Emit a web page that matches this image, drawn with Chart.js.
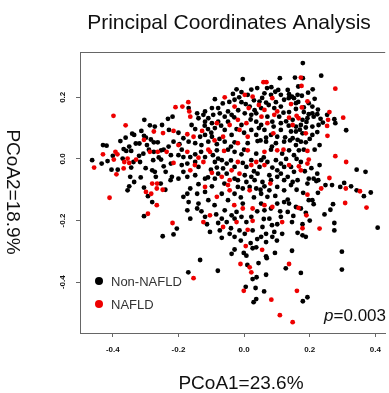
<!DOCTYPE html>
<html>
<head>
<meta charset="utf-8">
<script src="https://cdn.jsdelivr.net/npm/chart.js@4"></script>
<style>
  html, body { margin: 0; padding: 0; background: #fff; overflow: hidden; }
</style>
</head>
<body>
<canvas id="pcoa" width="389" height="393"></canvas>
<script>
const xTicks = [-0.4, -0.2, 0.0, 0.2, 0.4];
const yTicks = [-0.4, -0.2, 0.0, 0.2];
const groups = ['Non-NAFLD', 'NAFLD'];

// PCoA1 / PCoA2 scores
const nonNafld = [
  [-0.218,0.137],[-0.232,0.130],[-0.304,0.127],[-0.287,0.109],[-0.272,0.105],[-0.229,0.094],[-0.313,0.091],[-0.341,0.082],
  [-0.335,0.078],[-0.361,0.069],[-0.377,0.058],[-0.305,0.075],[-0.299,0.069],[-0.284,0.063],[-0.275,0.054],[-0.263,0.054],
  [-0.319,0.050],[-0.215,0.056],[-0.185,0.067],[-0.430,0.045],[-0.419,0.043],[-0.197,0.048],[-0.296,0.045],
  [-0.004,0.259],[0.083,0.233],[0.070,0.230],[0.104,0.224],[0.040,0.230],[0.022,0.225],[-0.023,0.226],[-0.008,0.217],
  [-0.034,0.211],[0.011,0.208],[0.062,0.213],[0.082,0.208],[0.112,0.208],[-0.089,0.194],[-0.169,0.165],[-0.029,0.192],
  [-0.008,0.184],[0.047,0.186],[0.067,0.183],[0.097,0.184],[0.122,0.192],[0.017,0.170],[0.052,0.165],[0.092,0.165],
  [0.112,0.170],[-0.098,0.165],[-0.079,0.165],[-0.119,0.154],[-0.124,0.143],[-0.109,0.132],[-0.094,0.143],[-0.074,0.148],
  [-0.049,0.154],[-0.059,0.137],[-0.038,0.143],[0.002,0.148],[0.022,0.143],[0.037,0.148],[0.071,0.137],[0.107,0.137],
  [-0.143,0.148],[-0.139,0.132],[-0.119,0.121],[-0.098,0.116],[-0.079,0.121],[-0.049,0.121],[-0.008,0.110],[0.037,0.121],
  [0.052,0.110],[0.086,0.121],[0.112,0.116],[-0.149,0.097],[-0.110,0.097],[-0.089,0.100],[-0.059,0.094],[-0.023,0.097],
  [0.022,0.094],[0.062,0.094],[0.112,0.094],[-0.134,0.072],[-0.119,0.078],[-0.098,0.072],[-0.038,0.078],[0.037,0.078],
  [0.067,0.069],[0.082,0.078],[0.101,0.072],[-0.169,0.056],[-0.149,0.051],[-0.109,0.056],[-0.083,0.048],[-0.059,0.056],
  [-0.029,0.054],[0.011,0.051],[0.041,0.058],[0.067,0.056],[0.097,0.051],[0.122,0.056],[0.109,0.262],
  [0.179,0.311],[0.155,0.264],[0.179,0.262],[0.235,0.270],[0.209,0.226],[0.133,0.224],[0.137,0.210],[0.146,0.202],
  [0.136,0.197],[0.152,0.197],[0.163,0.208],[0.158,0.181],[0.176,0.205],[0.197,0.181],[0.182,0.167],[0.158,0.162],
  [0.208,0.170],[0.137,0.152],[0.182,0.152],[0.197,0.145],[0.208,0.148],[0.223,0.145],[0.212,0.137],[0.253,0.143],
  [0.148,0.127],[0.178,0.127],[0.193,0.132],[0.233,0.130],[0.275,0.129],[0.278,0.116],[0.136,0.108],[0.158,0.105],
  [0.173,0.110],[0.188,0.102],[0.208,0.105],[0.227,0.110],[0.143,0.089],[0.158,0.089],[0.178,0.083],[0.208,0.078],
  [0.223,0.087],[0.311,0.093],[0.148,0.067],[0.163,0.062],[0.173,0.056],[0.188,0.054],[0.158,0.045],[0.230,0.045],
  [-0.463,-0.004],[-0.434,-0.015],[-0.416,-0.007],[-0.404,-0.035],[-0.385,-0.035],[-0.367,0.032],[-0.359,0.026],[-0.344,0.026],
  [-0.370,0.001],[-0.337,-0.010],[-0.317,-0.010],[-0.344,-0.028],[-0.307,0.017],[-0.275,0.023],[-0.253,0.028],[-0.245,0.030],
  [-0.223,0.012],[-0.200,0.012],[-0.185,0.006],[-0.277,-0.004],[-0.253,-0.002],[-0.245,-0.024],[-0.223,-0.015],[-0.190,-0.020],
  [-0.185,-0.042],[-0.280,-0.037],[-0.272,-0.042],[-0.239,-0.042],[-0.220,-0.058],[-0.224,-0.069],[-0.200,-0.064],[-0.269,-0.058],
  [-0.347,-0.058],[-0.335,-0.075],[-0.350,-0.089],[-0.355,-0.102],[-0.254,-0.080],[-0.305,-0.093],[-0.293,-0.121],[-0.280,-0.140],
  [-0.185,-0.123],[-0.305,-0.186],[-0.205,-0.226],[-0.215,-0.245],[-0.248,-0.251],
  [-0.164,0.006],[-0.149,0.015],[-0.131,0.023],[-0.083,0.028],[-0.049,0.030],[-0.029,0.023],[-0.008,0.015],[0.037,0.017],
  [0.082,0.030],[0.116,0.017],[-0.079,0.001],[-0.119,0.006],[-0.173,-0.015],[-0.149,-0.010],[-0.089,-0.010],[-0.068,-0.004],
  [-0.053,-0.015],[-0.004,-0.013],[0.022,-0.004],[0.052,-0.004],[0.071,-0.010],[0.097,-0.004],[0.112,-0.015],[-0.139,-0.026],
  [-0.101,-0.035],[-0.083,-0.028],[-0.064,-0.031],[-0.029,-0.026],[0.007,-0.026],[0.047,-0.026],[0.086,-0.028],[0.101,-0.037],
  [0.122,-0.026],[-0.173,-0.058],[-0.149,-0.053],[-0.079,-0.048],[-0.053,-0.048],[0.002,-0.053],[0.022,-0.058],[0.041,-0.048],
  [0.077,-0.053],[0.101,-0.058],[0.112,-0.048],[-0.119,-0.064],[-0.089,-0.064],[-0.029,-0.064],[-0.019,-0.069],[0.007,-0.075],
  [0.032,-0.069],[0.056,-0.075],[0.082,-0.069],[0.122,-0.069],[-0.139,-0.082],[-0.164,-0.096],[-0.098,-0.089],[-0.019,-0.091],
  [-0.004,-0.096],[0.017,-0.091],[0.037,-0.096],[0.062,-0.089],[0.077,-0.102],[0.101,-0.091],[0.122,-0.102],[-0.173,-0.113],
  [-0.143,-0.113],[-0.119,-0.107],[-0.068,-0.113],[-0.029,-0.113],[0.052,-0.113],[0.071,-0.123],[-0.169,-0.140],[-0.139,-0.145],
  [-0.109,-0.134],[-0.049,-0.134],[-0.004,-0.145],[0.052,-0.145],[0.082,-0.161],[0.101,-0.145],[0.122,-0.140],[-0.173,-0.167],
  [-0.143,-0.161],[-0.059,-0.167],[-0.023,-0.172],[0.062,-0.167],[-0.164,-0.194],[-0.119,-0.188],[-0.068,-0.194],[-0.038,-0.183],
  [-0.029,-0.194],[-0.008,-0.188],[0.022,-0.188],[0.077,-0.194],[0.112,-0.188],[-0.113,-0.212],[-0.079,-0.208],[-0.053,-0.205],
  [0.007,-0.205],[0.056,-0.221],[0.101,-0.212],[-0.104,-0.237],[-0.074,-0.232],[-0.044,-0.243],[-0.014,-0.232],[0.002,-0.243],
  [0.026,-0.232],[0.067,-0.243],[0.092,-0.237],[0.116,-0.243],[-0.029,-0.253],[0.052,-0.253],[0.086,-0.253],[-0.068,-0.256],
  [0.182,0.030],[0.167,0.028],[0.137,0.028],[0.152,0.012],[0.173,-0.010],[0.143,-0.026],[0.152,-0.042],[0.133,-0.058],
  [0.230,-0.020],[0.343,-0.035],[0.370,-0.042],[0.223,-0.048],[0.212,-0.064],[0.220,-0.072],[0.226,-0.069],[0.197,-0.064],
  [0.193,-0.080],[0.163,-0.069],[0.148,-0.075],[0.143,-0.085],[0.248,-0.085],[0.268,-0.085],[0.293,-0.091],[0.305,-0.078],
  [0.326,-0.089],[0.343,-0.102],[0.365,-0.121],[0.386,-0.109],[0.197,-0.134],[0.208,-0.134],[0.212,-0.147],[0.133,-0.132],
  [0.137,-0.145],[0.271,-0.147],[0.263,-0.165],[0.158,-0.156],[0.173,-0.161],[0.188,-0.175],[0.133,-0.172],[0.146,-0.205],
  [0.178,-0.212],[0.275,-0.208],[0.275,-0.232],[0.407,-0.223],[0.163,-0.240],[0.178,-0.248],[0.188,-0.253],
  [0.020,-0.273],[0.037,-0.287],[0.026,-0.290],[0.067,-0.270],[0.100,-0.265],[-0.029,-0.294],[-0.038,-0.308],[-0.001,-0.305],
  [0.007,-0.314],[0.067,-0.316],[0.069,-0.322],[0.094,-0.305],[-0.134,-0.328],[0.010,-0.344],[0.044,-0.338],[0.127,-0.355],
  [-0.170,-0.368],[-0.080,-0.363],[0.026,-0.390],[0.038,-0.384],[0.067,-0.376],[0.005,-0.415],[0.035,-0.419],[0.061,-0.430],
  [0.037,-0.455],[0.029,-0.465],
  [0.146,-0.298],[0.298,-0.301],[0.173,-0.370],[0.298,-0.359],[0.179,-0.462],[0.193,-0.449],
  [-0.015,0.200],[0.030,0.190],[0.055,0.198],[0.095,0.218],[0.075,0.175],[0.032,0.158],[-0.018,0.158],[-0.065,0.180],
  [-0.045,0.185],[0.005,0.178],[0.120,0.150],[0.128,0.122],[0.020,0.128],[-0.030,0.135],[-0.070,0.108],[0.045,0.100],
  [0.090,0.105],[-0.120,0.108],[-0.160,0.110],[-0.100,0.085],[-0.075,0.065],[0.000,0.085],[0.050,0.060],[0.085,0.040],
  [-0.040,0.040],[-0.130,0.045],[-0.190,0.030],[-0.095,0.012],[0.000,0.030],[0.060,0.005],[0.125,0.070],[0.128,0.000],
  [-0.040,-0.005],[0.030,-0.040],[-0.110,-0.060],[-0.060,-0.080],[0.050,-0.100],[0.095,-0.120],[-0.090,-0.150],[0.030,-0.125],
  [-0.010,-0.125],[0.110,-0.170],[-0.130,-0.170],[0.040,-0.170],[-0.085,-0.180],[0.060,-0.195],[-0.040,-0.225],[0.085,-0.215],
  [0.040,-0.260],[-0.010,-0.265],
  [0.165,0.235],[0.195,0.215],[0.165,0.185],[0.215,0.195],[0.225,0.160],[0.190,0.120],[0.240,0.118],[0.170,0.095],
  [0.200,0.065],[0.140,0.060],[0.215,0.030],[0.160,0.000],[0.185,-0.040],[0.205,-0.030],[0.160,-0.100],[0.180,-0.110],
  [0.225,-0.110],[0.150,-0.185],[0.200,-0.200],[0.245,-0.180],
  [-0.330,0.050],[-0.350,0.040],[-0.290,0.030],[-0.320,0.010],[-0.260,0.005],[-0.300,-0.030],[-0.230,0.040],[-0.200,0.085],
  [-0.250,0.110],[-0.400,0.010],[-0.315,-0.060],[-0.240,-0.100]
];

const nafld = [
  [-0.398,0.140],[-0.361,0.109],[-0.209,0.168],[-0.188,0.170],[-0.275,0.089],[-0.247,0.084],[-0.215,0.091],[-0.305,0.062],
  [0.059,0.249],[0.068,0.249],[0.002,0.208],[0.026,0.202],[0.086,0.197],[-0.059,0.200],[-0.170,0.184],[-0.167,0.154],
  [-0.164,0.137],[-0.029,0.170],[0.014,0.165],[0.062,0.159],[0.101,0.154],[0.053,0.137],[0.092,0.143],[-0.083,0.116],
  [-0.044,0.110],[-0.019,0.127],[0.007,0.116],[0.071,0.116],[-0.128,0.091],[-0.014,0.094],[0.089,0.083],[-0.173,0.080],
  [-0.154,0.072],[-0.064,0.072],[0.011,0.072],[-0.019,0.051],
  [0.173,0.264],[0.175,0.237],[0.278,0.228],[0.143,0.178],[0.193,0.187],[0.176,0.167],[0.260,0.152],[0.302,0.134],
  [0.137,0.134],[0.166,0.132],[0.256,0.127],[0.148,0.110],[0.253,0.107],[0.188,0.083],[0.254,0.075],
  [-0.457,-0.028],[-0.430,0.015],[-0.392,0.023],[-0.386,0.015],[-0.397,-0.002],[-0.389,-0.050],[-0.365,-0.010],[-0.355,0.001],
  [-0.350,-0.013],[-0.329,-0.002],[-0.367,-0.031],[-0.287,0.023],[-0.263,0.023],[-0.236,0.023],[-0.215,-0.013],[-0.280,-0.080],
  [-0.265,-0.080],[-0.266,-0.096],[-0.248,-0.100],[-0.299,-0.107],[-0.283,-0.113],[-0.410,-0.126],[-0.266,-0.150],[-0.293,-0.178],
  [-0.218,-0.208],
  [-0.173,0.023],[-0.109,0.030],[-0.104,0.023],[-0.061,0.026],[0.011,0.028],[0.062,0.023],[0.101,0.028],[-0.139,0.004],
  [-0.164,-0.037],[-0.124,-0.010],[-0.019,-0.010],[0.037,-0.010],[-0.038,-0.037],[0.022,-0.020],[0.062,-0.020],[-0.098,-0.045],
  [-0.068,-0.058],[-0.014,-0.048],[-0.044,-0.069],[-0.119,-0.091],[-0.049,-0.085],[-0.044,-0.102],[0.017,-0.102],[-0.083,-0.123],
  [-0.004,-0.161],[0.026,-0.161],[0.062,-0.150],[0.086,-0.156],[-0.104,-0.183],[-0.124,-0.205],[-0.064,-0.221],[-0.023,-0.205],
  [0.026,-0.201],[0.116,-0.205],[0.011,-0.230],
  [0.193,0.026],[0.197,-0.002],[0.167,-0.024],[0.173,-0.037],[0.137,-0.020],[0.193,-0.015],[0.278,0.009],[0.311,-0.010],
  [0.260,-0.062],[0.235,-0.096],[0.310,-0.096],[0.353,-0.105],[0.193,-0.116],[0.308,-0.143],[0.373,-0.158],[0.166,-0.159],
  [0.190,-0.183],[0.178,-0.225],[0.230,-0.226],
  [0.005,-0.283],[0.055,-0.295],[-0.011,-0.341],[0.017,-0.352],[-0.154,-0.387],[0.022,-0.368],[-0.001,-0.428],[0.083,-0.457],
  [0.109,-0.507],[0.137,-0.341],[0.161,-0.428],[0.148,-0.530],
  [0.045,0.175],[-0.090,0.060],[0.120,0.030],[-0.030,-0.150],[0.160,0.140],[-0.200,0.045],[0.080,-0.080],[-0.150,-0.020]
];

const FONT = "'Liberation Sans', Arial, Helvetica, sans-serif";
const RED = 'rgb(238,0,0)';
const BLACK = '#000';

function toPoints(arr) {
  return arr.map(p => ({ x: p[0], y: p[1] }));
}

// title, frame top line, legend, p value and axis titles (R-style)
const overlay = {
  id: 'overlay',
  afterDraw(chart) {
    const { ctx, chartArea: a } = chart;
    ctx.save();
    ctx.fillStyle = '#111';
    ctx.font = '21px ' + FONT;
    ctx.textAlign = 'center';
    ctx.textBaseline = 'middle';
    ctx.fillText('Principal Coordinates Analysis', 229, 23);

    ctx.strokeStyle = '#666';
    ctx.lineWidth = 1;
    ctx.beginPath();
    ctx.moveTo(a.left, Math.round(a.top) + 0.5);
    ctx.lineTo(a.right, Math.round(a.top) + 0.5);
    ctx.stroke();

    // legend
    const cols = [BLACK, RED];
    groups.forEach((g, i) => {
      const y = 281 + i * 23;
      ctx.fillStyle = cols[i];
      ctx.beginPath();
      ctx.arc(99, y, 4, 0, Math.PI * 2);
      ctx.fill();
      ctx.fillStyle = '#333';
      ctx.font = '13px ' + FONT;
      ctx.textAlign = 'left';
      ctx.textBaseline = 'middle';
      ctx.fillText(g, 111, y + 1);
    });

    // p value
    ctx.fillStyle = '#111';
    ctx.textBaseline = 'alphabetic';
    ctx.font = '17px ' + FONT;
    const rest = '=0.003';
    const w = ctx.measureText(rest).width;
    ctx.textAlign = 'left';
    ctx.fillText(rest, 386 - w, 321);
    ctx.font = 'italic 17px ' + FONT;
    const pw = ctx.measureText('p').width;
    ctx.fillText('p', 386 - w - pw, 321);

    // axis titles
    ctx.fillStyle = '#111';
    ctx.font = '19px ' + FONT;
    ctx.textAlign = 'center';
    ctx.textBaseline = 'middle';
    ctx.fillText('PCoA1=23.6%', 241, 384);
    ctx.translate(12, 192);
    ctx.rotate(Math.PI / 2);
    ctx.fillText('PCoA2=18.9%', 0, 0);
    ctx.restore();
  }
};

new Chart(document.getElementById('pcoa'), {
  type: 'scatter',
  data: {
    datasets: [
      {
        label: groups[1],
        data: toPoints(nafld),
        backgroundColor: RED,
        borderWidth: 0,
        pointRadius: 2.4,
        pointHoverRadius: 2.4,
      },
      {
        label: groups[0],
        data: toPoints(nonNafld),
        backgroundColor: BLACK,
        borderWidth: 0,
        pointRadius: 2.4,
        pointHoverRadius: 2.4,
      },
    ],
  },
  options: {
    responsive: false,
    animation: false,
    devicePixelRatio: 1,
    events: [],
    layout: { padding: { left: 0, right: 0, top: 52, bottom: 0 } },
    plugins: {
      legend: { display: false },
      tooltip: { enabled: false },
    },
    scales: {
      x: {
        type: 'linear',
        min: -0.5,
        max: 0.43,
        afterFit: s => { s.height = 60; },
        afterBuildTicks: s => { s.ticks = xTicks.map(v => ({ value: v })); },
        grid: { drawOnChartArea: false, drawTicks: true, tickLength: 4, color: '#666' },
        border: { display: true, color: '#666', width: 1 },
        ticks: {
          padding: 8,
          color: '#111',
          font: { family: FONT, size: 8, weight: 'bold' },
          callback: v => v.toFixed(1),
        },
      },
      y: {
        type: 'linear',
        min: -0.565,
        max: 0.347,
        afterFit: s => { s.width = 80; },
        afterBuildTicks: s => { s.ticks = yTicks.map(v => ({ value: v })); },
        grid: { drawOnChartArea: false, drawTicks: true, tickLength: 4, color: '#666' },
        border: { display: true, color: '#666', width: 1 },
        ticks: {
          padding: 6,
          minRotation: 90,
          maxRotation: 90,
          crossAlign: 'center',
          color: '#111',
          font: { family: FONT, size: 8, weight: 'bold' },
          callback: v => v.toFixed(1),
        },
      },
    },
  },
  plugins: [overlay],
});
</script>
</body>
</html>
